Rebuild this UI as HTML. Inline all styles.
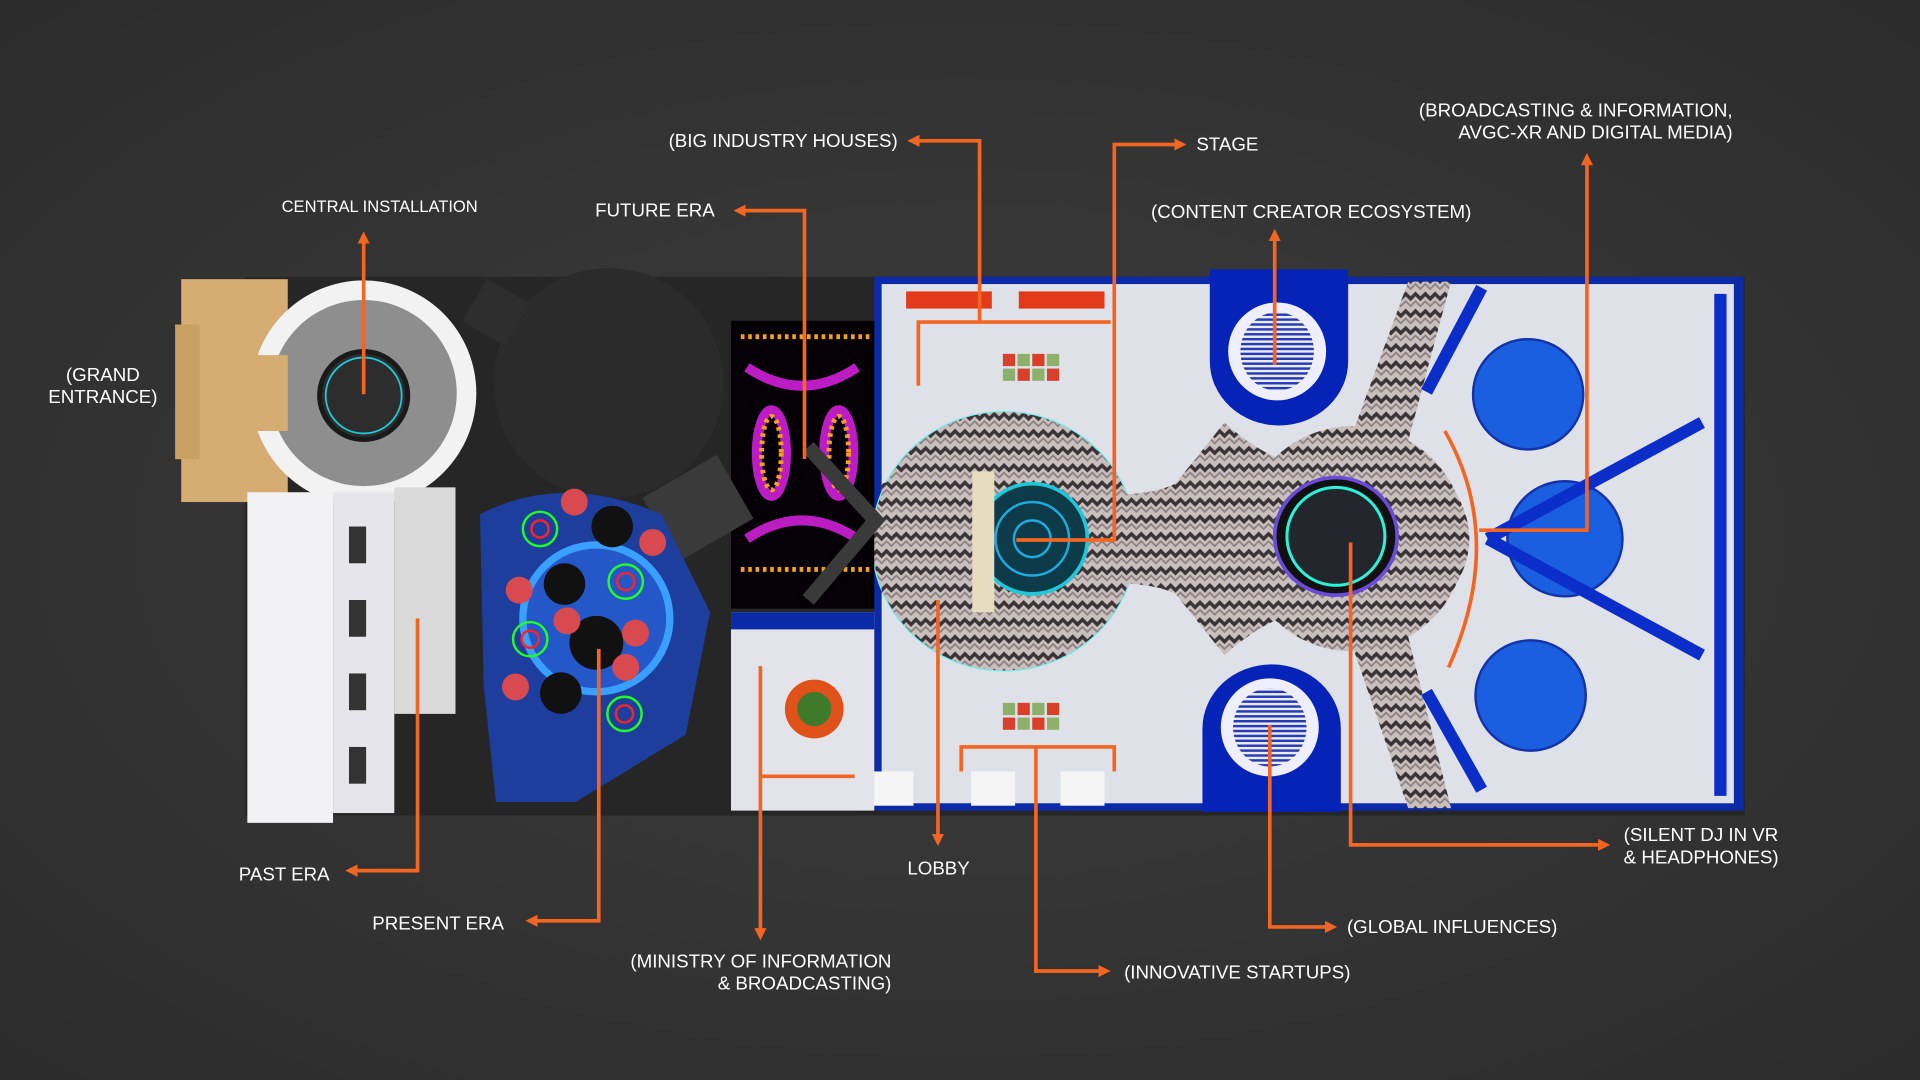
<!DOCTYPE html>
<html><head><meta charset="utf-8"><style>
html,body{margin:0;padding:0;background:#333;}
svg{display:block}
text{font-family:"Liberation Sans",sans-serif;fill:#fff;font-size:15.3px;}
</style></head><body>
<svg width="1920" height="1080" viewBox="0 0 1568 882" xmlns="http://www.w3.org/2000/svg">
<defs>
<radialGradient id="bg" cx="50%" cy="50%" r="70%"><stop offset="0" stop-color="#3d3d3d"/><stop offset="1" stop-color="#2c2c2c"/></radialGradient>
<pattern id="chev" width="16" height="14" patternUnits="userSpaceOnUse">
<rect width="16" height="14" fill="#c9bfbd"/>
<path d="M0 4 L4 0 L8 4 L12 0 L16 4 L16 8 L12 4 L8 8 L4 4 L0 8Z" fill="#3a3438"/>
<path d="M0 11 L4 7 L8 11 L12 7 L16 11 L16 13 L12 9 L8 13 L4 9 L0 13Z" fill="#8a7e80"/>
</pattern>
<pattern id="stripe" width="4" height="4" patternUnits="userSpaceOnUse"><rect width="4" height="4" fill="#e8ecff"/><rect width="4" height="2" fill="#2a3ab0"/></pattern>
<marker id="ar" markerWidth="10" markerHeight="10" refX="5" refY="5" orient="auto" markerUnits="userSpaceOnUse"><path d="M0 0 L10 5 L0 10Z" fill="#f26522"/></marker>
</defs>
<rect width="1568" height="882" fill="url(#bg)"/>
<rect x="200" y="226" width="1225" height="440" fill="#262626"/>
<rect x="714" y="226" width="710" height="436" fill="#0b2aa8"/>
<rect x="720" y="232" width="696" height="424" fill="#dfe1e8"/>
<!-- carpet -->
<ellipse cx="820" cy="442" rx="108" ry="106" fill="url(#chev)" stroke="#7ee" stroke-width="1"/>
<path d="M720 395 Q770 380 850 400 Q930 410 960 395 L1000 345 Q1050 390 1095 380 L1150 230 L1185 230 L1150 360 Q1200 400 1200 440 Q1200 480 1150 520 L1185 660 L1150 660 L1095 500 Q1050 490 1000 535 L960 485 Q930 470 850 480 Q770 500 720 485Z" fill="url(#chev)"/>
<ellipse cx="1105" cy="440" rx="92" ry="92" fill="url(#chev)"/>
<circle cx="843" cy="440" r="45" fill="#0d3b4a" stroke="#1ec8d8" stroke-width="3"/>
<circle cx="843" cy="440" r="30" fill="none" stroke="#2ad" stroke-width="2"/>
<circle cx="843" cy="440" r="15" fill="none" stroke="#2ad" stroke-width="2"/>
<rect x="794" y="385" width="18" height="115" fill="#e8dcc0"/>
<ellipse cx="1091" cy="438" rx="50" ry="48" fill="#111" stroke="#6a4bd8" stroke-width="3"/>
<ellipse cx="1091" cy="438" rx="40" ry="40" fill="#23262c" stroke="#2ef0d8" stroke-width="2.5"/>
<!-- pods -->
<path d="M988 220 H1101 V295 A56 52 0 0 1 988 295Z" fill="#0623b8"/>
<ellipse cx="1043" cy="287" rx="40" ry="40" fill="#eef"/>
<ellipse cx="1043" cy="287" rx="30" ry="32" fill="url(#stripe)"/>
<path d="M982 663 H1095 V595 A56 52 0 0 0 982 595Z" fill="#0623b8"/>
<ellipse cx="1037" cy="594" rx="40" ry="40" fill="#eef"/>
<ellipse cx="1037" cy="594" rx="30" ry="32" fill="url(#stripe)"/>
<g fill="#1a5fe0" stroke="#1433a8" stroke-width="2">
<circle cx="1248" cy="322" r="45"/><circle cx="1278" cy="440" r="47"/><circle cx="1250" cy="568" r="45"/></g>
<g stroke="#0c2ec8" stroke-width="10" fill="none">
<path d="M1215 440 L1390 345"/><path d="M1215 440 L1390 535"/>
<path d="M1210 235 L1165 320"/><path d="M1210 645 L1165 565"/>
<path d="M1405 240 V650"/></g>
<g fill="#d8402a"><rect x="819" y="289" width="10" height="10"/><rect x="843" y="289" width="10" height="10"/><rect x="831" y="301" width="10" height="10"/><rect x="855" y="301" width="10" height="10"/>
<rect x="819" y="586" width="10" height="10"/><rect x="843" y="586" width="10" height="10"/><rect x="831" y="574" width="10" height="10"/><rect x="855" y="574" width="10" height="10"/></g>
<g fill="#8db06a"><rect x="831" y="289" width="10" height="10"/><rect x="855" y="289" width="10" height="10"/><rect x="819" y="301" width="10" height="10"/><rect x="843" y="301" width="10" height="10"/>
<rect x="819" y="574" width="10" height="10"/><rect x="843" y="574" width="10" height="10"/><rect x="831" y="586" width="10" height="10"/><rect x="855" y="586" width="10" height="10"/></g>
<g fill="#e23a1a"><rect x="740" y="238" width="70" height="14"/><rect x="832" y="238" width="70" height="14"/></g>
<g fill="#f5f5f5"><rect x="710" y="630" width="36" height="28"/><rect x="793" y="630" width="36" height="28"/><rect x="866" y="630" width="36" height="28"/></g>
<rect x="597" y="500" width="117" height="162" fill="#e2e4ea"/>
<rect x="597" y="500" width="117" height="14" fill="#0b2aa8"/>
<circle cx="665" cy="579" r="24" fill="#e0521a"/><circle cx="665" cy="579" r="14" fill="#3f7a2a"/>
<rect x="597" y="262" width="117" height="235" fill="#050005"/>
<g fill="none" stroke="#d020d8" stroke-width="8" opacity=".9">
<path d="M610 300 Q655 330 700 300"/><path d="M610 440 Q655 410 700 440"/>
<ellipse cx="630" cy="370" rx="12" ry="35"/><ellipse cx="685" cy="370" rx="12" ry="35"/></g>
<g fill="none" stroke="#f5a020" stroke-width="4" stroke-dasharray="3 3">
<path d="M605 275 H710"/><path d="M605 465 H710"/><ellipse cx="630" cy="370" rx="8" ry="30"/><ellipse cx="685" cy="370" rx="8" ry="30"/></g>
<path d="M660 365 L715 425 L660 490" fill="none" stroke="#3a3a3a" stroke-width="12"/>
<!-- central installation -->
<rect x="148" y="228" width="87" height="182" fill="#d5ad72"/>
<rect x="143" y="265" width="20" height="110" fill="#c99f64"/>
<circle cx="297" cy="321" r="92" fill="#f2f2f2"/>
<circle cx="297" cy="321" r="76" fill="#8e8e8e"/>
<rect x="195" y="290" width="40" height="62" fill="#d5ad72"/>
<circle cx="297" cy="323" r="36" fill="#2d2d2d" stroke="#1a1a1a" stroke-width="4"/>
<circle cx="297" cy="323" r="31" fill="none" stroke="#1ecad8" stroke-width="1.5"/>
<circle cx="497" cy="313" r="94" fill="#2b2b2b"/>
<rect x="385" y="235" width="40" height="40" fill="#2e2e2e" transform="rotate(30 405 255)"/>
<rect x="535" y="385" width="70" height="60" fill="#3a3a3a" transform="rotate(-30 570 415)"/>
<rect x="202" y="402" width="70" height="270" fill="#f2f2f4"/>
<rect x="272" y="402" width="50" height="262" fill="#e6e6ea"/>
<rect x="322" y="398" width="50" height="185" fill="#dadada"/>
<rect x="350" y="585" width="50" height="80" fill="#262626"/>
<g fill="#333"><rect x="285" y="430" width="14" height="30"/><rect x="285" y="490" width="14" height="30"/><rect x="285" y="550" width="14" height="30"/><rect x="285" y="610" width="14" height="30"/></g>
<path d="M392 420 Q460 385 540 420 L580 500 L560 600 L470 655 L405 655 L395 560Z" fill="#1e3e9e"/>
<circle cx="487" cy="505" r="60" fill="#2458c8" stroke="#3aa0ff" stroke-width="6"/>
<circle cx="487" cy="525" r="22" fill="#111"/>
<g fill="#111"><circle cx="500" cy="430" r="17"/><circle cx="461" cy="477" r="17"/><circle cx="458" cy="566" r="17"/></g>
<g fill="#d84a50"><circle cx="469" cy="410" r="11"/><circle cx="533" cy="443" r="11"/><circle cx="424" cy="482" r="11"/><circle cx="463" cy="507" r="11"/><circle cx="519" cy="517" r="11"/><circle cx="511" cy="545" r="11"/><circle cx="421" cy="561" r="11"/></g>
<g fill="none" stroke-width="2"><circle cx="441" cy="432" r="14" stroke="#2f2"/><circle cx="511" cy="475" r="14" stroke="#2f2"/><circle cx="433" cy="522" r="14" stroke="#2f2"/><circle cx="510" cy="583" r="14" stroke="#2f2"/>
<circle cx="441" cy="432" r="7" stroke="#f22"/><circle cx="511" cy="475" r="7" stroke="#f22"/><circle cx="433" cy="522" r="7" stroke="#f22"/><circle cx="510" cy="583" r="7" stroke="#f22"/></g>
<g fill="none" stroke="#f26522" stroke-width="3">
<path d="M297 322 V194" marker-end="url(#ar)"/>
<path d="M657 375 V172 H604" marker-end="url(#ar)"/>
<path d="M750 315 V263 H907"/><path d="M800 263 V115 H746" marker-end="url(#ar)"/>
<path d="M830 441 H910 V118 H964" marker-end="url(#ar)"/>
<path d="M1041 298 V192" marker-end="url(#ar)"/>
<path d="M1208 433 H1296 V130" marker-end="url(#ar)"/>
<path d="M1180 352 Q1230 440 1183 545"/>
<path d="M341 505 V711 H287" marker-end="url(#ar)"/>
<path d="M489 530 V752 H434" marker-end="url(#ar)"/>
<path d="M766 490 V686" marker-end="url(#ar)"/>
<path d="M621 544 V763" marker-end="url(#ar)"/><path d="M621 634 H698"/>
<path d="M785 630 V610 H910 V630"/><path d="M846 610 V793 H902" marker-end="url(#ar)"/>
<path d="M1037 592 V757 H1087" marker-end="url(#ar)"/>
<path d="M1103 443 V690 H1310" marker-end="url(#ar)"/>
</g>
<text x="230" y="173" style="font-size:13.5px">CENTRAL INSTALLATION</text>
<text x="84" y="311" text-anchor="middle">(GRAND</text>
<text x="84" y="329" text-anchor="middle">ENTRANCE)</text>
<text x="486" y="177">FUTURE ERA</text>
<text x="546" y="120">(BIG INDUSTRY HOUSES)</text>
<text x="977" y="123">STAGE</text>
<text x="940" y="178">(CONTENT CREATOR ECOSYSTEM)</text>
<text x="1415" y="95" text-anchor="end">(BROADCASTING &amp; INFORMATION,</text>
<text x="1415" y="113" text-anchor="end">AVGC-XR AND DIGITAL MEDIA)</text>
<text x="195" y="719">PAST ERA</text>
<text x="304" y="759">PRESENT ERA</text>
<text x="741" y="714">LOBBY</text>
<text x="728" y="790" text-anchor="end">(MINISTRY OF INFORMATION</text>
<text x="728" y="808" text-anchor="end">&amp; BROADCASTING)</text>
<text x="918" y="799">(INNOVATIVE STARTUPS)</text>
<text x="1100" y="762">(GLOBAL INFLUENCES)</text>
<text x="1326" y="687">(SILENT DJ IN VR</text>
<text x="1326" y="705">&amp; HEADPHONES)</text>
</svg>
</body></html>
